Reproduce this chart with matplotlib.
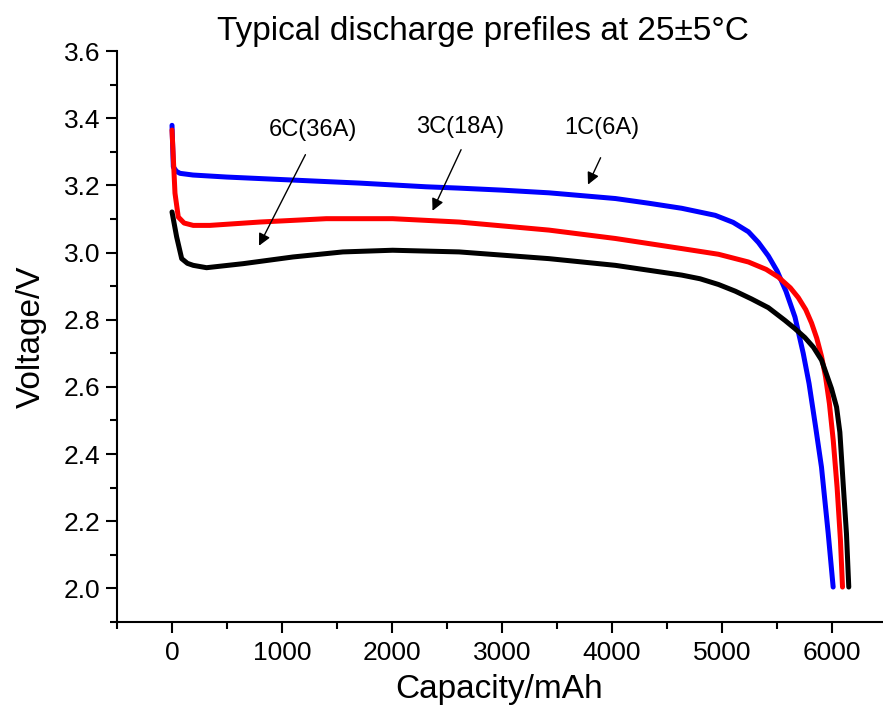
import matplotlib.pyplot as plt
from matplotlib.ticker import MultipleLocator

plt.rcParams['font.family'] = ['Liberation Sans', 'DejaVu Sans']

# 1C (6A)
cap_1c = [0, 12, 40, 73, 190, 496, 1097, 1704, 2308, 2610, 3000, 3426, 4030, 4333, 4632,
          4937, 5100, 5239, 5330, 5420, 5500, 5580, 5662, 5737, 5790, 5850, 5903, 5964, 6009]
volt_1c = [3.379, 3.255, 3.242, 3.236, 3.231, 3.225, 3.216, 3.207, 3.196, 3.192, 3.186, 3.178, 3.161, 3.147, 3.132,
           3.111, 3.090, 3.062, 3.030, 2.990, 2.945, 2.885, 2.808, 2.700, 2.610, 2.480, 2.361, 2.164, 2.004]

# 3C (18A)
cap_3c = [0, 27, 57, 110, 193, 344, 798, 1402, 2005, 2610, 3426, 4030, 4632, 4967, 5239,
          5400, 5511, 5620, 5692, 5760, 5813, 5860, 5904, 5940, 5975, 6010, 6045, 6075, 6094]
volt_3c = [3.365, 3.177, 3.106, 3.088, 3.081, 3.081, 3.091, 3.101, 3.101, 3.091, 3.067, 3.042, 3.012, 2.995, 2.972,
           2.950, 2.927, 2.895, 2.866, 2.830, 2.790, 2.745, 2.690, 2.630, 2.550, 2.440, 2.300, 2.145, 2.004]

# 6C (36A)
cap_6c = [0, 42, 88, 140, 193, 314, 646, 1100, 1553, 2005, 2610, 3426, 4030, 4632, 4800, 4967, 5120, 5267,
          5420, 5571, 5660, 5752, 5830, 5903, 5994, 6040, 6070, 6100, 6130, 6151]
volt_6c = [3.121, 3.047, 2.982, 2.968, 2.962, 2.955, 2.967, 2.987, 3.002, 3.007, 3.002, 2.982, 2.962, 2.933, 2.922,
           2.905, 2.885, 2.862, 2.836, 2.798, 2.774, 2.747, 2.718, 2.680, 2.595, 2.540, 2.465, 2.312, 2.163, 2.004]

labels = ['6C(36A)', '3C(18A)', '1C(6A)']
label_xy = [(1278, 3.366), (2620, 3.374), (3906, 3.370)]
arrow_tail = [(1224, 3.299), (2638, 3.314), (3906, 3.290)]
arrow_head = [(779, 3.013), (2357, 3.117), (3770, 3.195)]

fig = plt.figure(figsize=(8.83, 7.1), dpi=100)
ax = fig.add_axes([0.1325, 0.124, 0.866, 0.804])

ax.plot(cap_1c, volt_1c, color='#0000ff', lw=3.6, solid_capstyle='round', solid_joinstyle='round')
ax.plot(cap_3c, volt_3c, color='#ff0000', lw=3.6, solid_capstyle='round', solid_joinstyle='round')
ax.plot(cap_6c, volt_6c, color='#000000', lw=3.6, solid_capstyle='round', solid_joinstyle='round')

for lab, xy, tail, head in zip(labels, label_xy, arrow_tail, arrow_head):
    ax.text(xy[0], xy[1], lab, fontsize=17, ha='center', va='center')
    ax.annotate('', xy=head, xytext=tail,
                arrowprops=dict(arrowstyle='-|>', color='k', lw=1, mutation_scale=18))

ax.set_xlim(-500, 6450)
ax.set_ylim(1.9, 3.6)
ax.xaxis.set_major_locator(MultipleLocator(1000))
ax.xaxis.set_minor_locator(MultipleLocator(500))
ax.yaxis.set_major_locator(MultipleLocator(0.2))
ax.yaxis.set_minor_locator(MultipleLocator(0.1))
ax.yaxis.set_major_formatter(plt.FormatStrFormatter('%.1f'))

for s in ['top', 'right']:
    ax.spines[s].set_visible(False)
for s in ['left', 'bottom']:
    ax.spines[s].set_linewidth(1.5)

ax.tick_params(which='major', direction='out', length=8, width=1.5, labelsize=19)
ax.tick_params(which='minor', direction='out', length=5, width=1.5)
ax.tick_params(axis='x', pad=6)
ax.tick_params(axis='y', pad=4)

ax.set_xlabel('Capacity/mAh', fontsize=24, labelpad=6)
ax.set_ylabel('Voltage/V', fontsize=24, labelpad=12)
ax.set_title('Typical discharge prefiles at 25±5°C', fontsize=24, pad=8, x=0.478)

fig.savefig('out.png', dpi=100)
